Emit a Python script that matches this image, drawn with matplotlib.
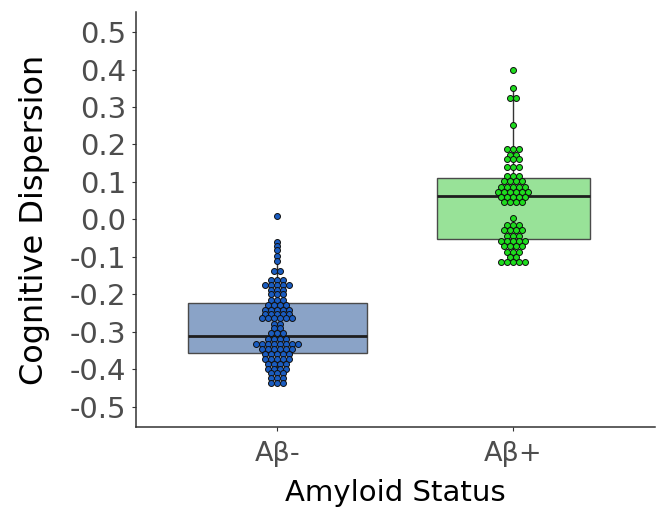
import numpy as np
import matplotlib
matplotlib.use('Agg')
import matplotlib.pyplot as plt

# Categories and colours
groups = ['Aβ-', 'Aβ+']
box_fill = ['#8aa3c7', '#98e298']
dot_fill = ['#1a5cc0', '#1edc1e']

# Box statistics
q1 = [-0.357, -0.053]
med = [-0.311, 0.063]
q3 = [-0.224, 0.111]
whislo = [-0.436, -0.113]
whishi = [-0.060, 0.352]
box_widths = [0.76, 0.65]

# Dot plot rows: value of each stacked row and number of dots in it
neg_rows = [0.010, -0.060, -0.070, -0.082, -0.098, -0.111, -0.137, -0.162,
            -0.175, -0.188, -0.200, -0.215, -0.229, -0.242, -0.252, -0.264,
            -0.279, -0.290, -0.304, -0.320, -0.333, -0.346, -0.359, -0.373,
            -0.386, -0.398, -0.410, -0.423, -0.436]
neg_counts = [1, 1, 1, 1, 1, 1, 2, 3, 5, 3, 3, 3, 4, 5, 5, 6, 2, 2, 3, 4,
              8, 6, 5, 5, 4, 4, 3, 3, 3]
pos_rows = [0.400, 0.352, 0.324, 0.251, 0.187, 0.171, 0.160, 0.140, 0.115,
            0.103, 0.087, 0.074, 0.060, 0.047, 0.004, -0.015, -0.029, -0.045,
            -0.057, -0.071, -0.086, -0.100, -0.113]
pos_counts = [1, 1, 2, 1, 3, 2, 3, 3, 3, 4, 5, 6, 5, 4, 1, 3, 4, 3, 5, 4, 3,
              2, 5]

y_ticks = np.round(np.arange(-0.5, 0.51, 0.1), 1) + 0.0

fig = plt.figure(figsize=(6.62, 5.09), dpi=100)
ax = fig.add_axes([0.2054, 0.161, 0.7836, 0.815])

stats = []
for i in range(2):
    stats.append({'med': med[i], 'q1': q1[i], 'q3': q3[i],
                  'whislo': whislo[i], 'whishi': whishi[i], 'fliers': []})

bp = ax.bxp(stats, positions=[1, 2], widths=box_widths, patch_artist=True,
            showfliers=False, showcaps=False,
            boxprops=dict(edgecolor='#4a4a4a', linewidth=1.0),
            whiskerprops=dict(color='#333333', linewidth=1.0),
            medianprops=dict(color='#1e1e1e', linewidth=2.0))
for patch, c in zip(bp['boxes'], box_fill):
    patch.set_facecolor(c)

ax.set_xlim(0.4, 2.6)
ax.set_ylim(-0.554, 0.553)

# dot spacing in data units (about 6 px across)
ax_w_px = 0.7836 * 662
dx = 6.0 / (ax_w_px / 2.2)

for pos, rows, counts, c in [(1, neg_rows, neg_counts, dot_fill[0]),
                             (2, pos_rows, pos_counts, dot_fill[1])]:
    xs, ys = [], []
    for v, n in zip(rows, counts):
        for k in range(n):
            xs.append(pos + (k - (n - 1) / 2) * dx)
            ys.append(v)
    ax.plot(xs, ys, 'o', ms=4.3, mfc=c, mec='#111111', mew=0.7, zorder=5)

ax.set_yticks(y_ticks)
ax.set_yticklabels(['%.1f' % (t if abs(t) > 1e-9 else 0.0) for t in y_ticks])
ax.set_xticks([1, 2])
ax.set_xticklabels(groups)

ax.tick_params(axis='y', labelsize=21, colors='#4d4d4d', length=3, pad=4)
ax.tick_params(axis='x', labelsize=19.5, colors='#4d4d4d', length=3, pad=7)
ax.tick_params(axis='both', color='#333333')

for s in ['top', 'right']:
    ax.spines[s].set_visible(False)
for s in ['left', 'bottom']:
    ax.spines[s].set_color('#333333')
    ax.spines[s].set_linewidth(1.1)

ax.set_ylabel('Cognitive Dispersion', fontsize=23, labelpad=14)
ax.set_xlabel('Amyloid Status', fontsize=21, labelpad=9)

fig.savefig('out.png', dpi=100)
